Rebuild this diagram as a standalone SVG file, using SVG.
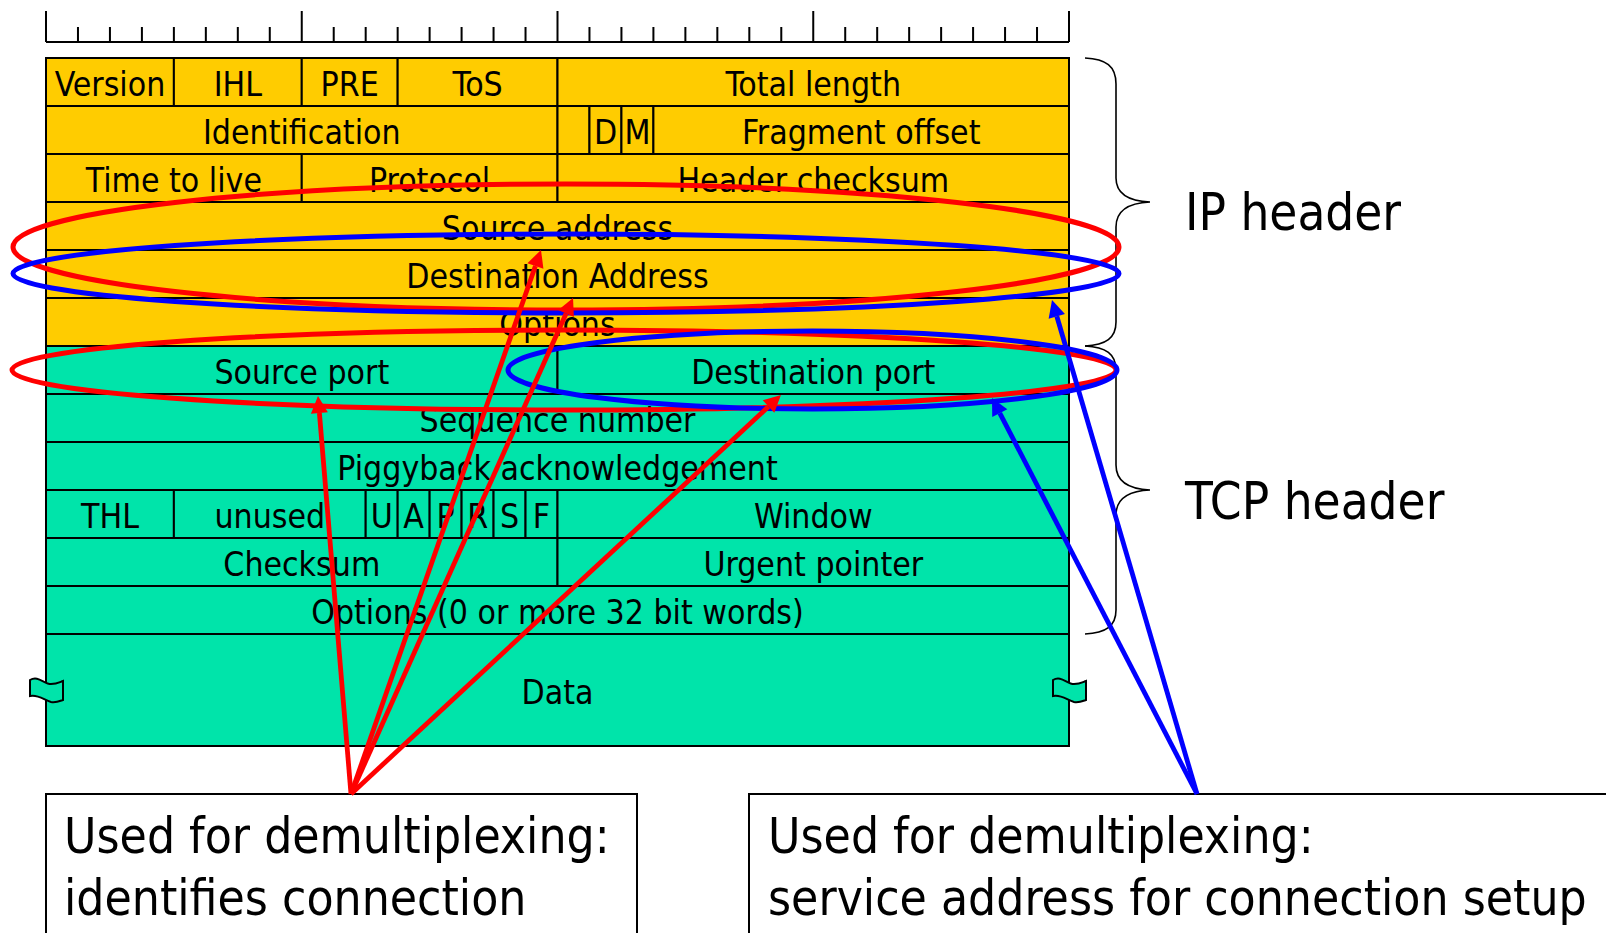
<svg xmlns="http://www.w3.org/2000/svg" width="1606" height="933" viewBox="0 0 1606 933">
  <style>
    .ip { fill: #FFCC00; stroke: #000; stroke-width: 2; }
    .tcp { fill: #00E4AA; stroke: #000; stroke-width: 2; }
    .f { font-family: "DejaVu Sans Condensed", "DejaVu Sans", sans-serif; font-stretch: condensed; font-size: 33.5px; text-anchor: middle; fill: #000; }
    .big { font-family: "DejaVu Sans Condensed", "DejaVu Sans", sans-serif; font-stretch: condensed; font-size: 50.7px; fill: #000; }
    .note { font-family: "DejaVu Sans Condensed", "DejaVu Sans", sans-serif; font-stretch: condensed; font-size: 49.3px; fill: #000; }
    .box { fill: #fff; stroke: #000; stroke-width: 2; }
    .rule { stroke: #000; stroke-width: 2; fill: none; }
    .brace { stroke: #000; stroke-width: 1.6; fill: none; }
    .ring { fill: none; stroke-width: 5; }
    .red { stroke: #FF0000; }
    .blue { stroke: #0000FF; }
    .arrow { stroke-width: 4.8; fill: none; }
  </style>
  <defs>
    <marker id="headRed" viewBox="0 -8.5 17 17" refX="0" refY="0" markerWidth="17" markerHeight="17" markerUnits="userSpaceOnUse" orient="auto" overflow="visible">
      <path d="M0,-8.5 L17,0 L0,8.5 z" fill="#FF0000"/>
    </marker>
    <marker id="headBlue" viewBox="0 -8.5 17 17" refX="0" refY="0" markerWidth="17" markerHeight="17" markerUnits="userSpaceOnUse" orient="auto" overflow="visible">
      <path d="M0,-8.5 L17,0 L0,8.5 z" fill="#0000FF"/>
    </marker>
    <path id="tear" d="M30,680 C38,675 44,684 51,684 C57,684 60,682 63,681 L63,700 C60,701 56,703 51,702 C44,700 38,694 30,696 Z"/>
  </defs>

  <!-- bit ruler: 32 bits, long ticks every 8 bits -->
  <g id="ruler" class="rule">
    <path d="M46,42 H1069"/>
    <path d="M46,42 V11 M301.75,42 V11 M557.5,42 V11 M813.25,42 V11 M1069,42 V11"/>
    <path d="M77.97,42 V27 M109.94,42 V27 M141.91,42 V27 M173.88,42 V27 M205.84,42 V27 M237.81,42 V27 M269.78,42 V27
             M333.72,42 V27 M365.69,42 V27 M397.66,42 V27 M429.63,42 V27 M461.59,42 V27 M493.56,42 V27 M525.53,42 V27
             M589.47,42 V27 M621.44,42 V27 M653.41,42 V27 M685.38,42 V27 M717.34,42 V27 M749.31,42 V27 M781.28,42 V27
             M845.22,42 V27 M877.19,42 V27 M909.16,42 V27 M941.13,42 V27 M973.09,42 V27 M1005.06,42 V27 M1037.03,42 V27"/>
  </g>

  <!-- IP header fields -->
  <g id="ip-version"><rect class="ip" x="46" y="58" width="127.88" height="48"/><text class="f" x="110" y="96">Version</text></g>
  <g id="ip-ihl"><rect class="ip" x="173.88" y="58" width="127.87" height="48"/><text class="f" x="237.8" y="96">IHL</text></g>
  <g id="ip-pre"><rect class="ip" x="301.75" y="58" width="95.91" height="48"/><text class="f" x="349.7" y="96">PRE</text></g>
  <g id="ip-tos"><rect class="ip" x="397.66" y="58" width="159.84" height="48"/><text class="f" x="477.6" y="96">ToS</text></g>
  <g id="ip-total-length"><rect class="ip" x="557.5" y="58" width="511.5" height="48"/><text class="f" x="813.3" y="96">Total length</text></g>

  <g id="ip-identification"><rect class="ip" x="46" y="106" width="511.5" height="48"/><text class="f" x="301.8" y="144">Identification</text></g>
  <g id="ip-flag-reserved"><rect class="ip" x="557.5" y="106" width="31.97" height="48"/></g>
  <g id="ip-flag-d"><rect class="ip" x="589.47" y="106" width="31.97" height="48"/><text class="f" x="605.5" y="144">D</text></g>
  <g id="ip-flag-m"><rect class="ip" x="621.44" y="106" width="31.97" height="48"/><text class="f" x="637.4" y="144">M</text></g>
  <g id="ip-fragment-offset"><rect class="ip" x="653.41" y="106" width="415.59" height="48"/><text class="f" x="861.2" y="144">Fragment offset</text></g>

  <g id="ip-ttl"><rect class="ip" x="46" y="154" width="255.75" height="48"/><text class="f" x="173.9" y="192">Time to live</text></g>
  <g id="ip-protocol"><rect class="ip" x="301.75" y="154" width="255.75" height="48"/><text class="f" x="429.6" y="192">Protocol</text></g>
  <g id="ip-header-checksum"><rect class="ip" x="557.5" y="154" width="511.5" height="48"/><text class="f" x="813.3" y="192">Header checksum</text></g>

  <g id="ip-source-address"><rect class="ip" x="46" y="202" width="1023" height="48"/><text class="f" x="557.5" y="240">Source address</text></g>
  <g id="ip-destination-address"><rect class="ip" x="46" y="250" width="1023" height="48"/><text class="f" x="557.5" y="288">Destination Address</text></g>
  <g id="ip-options"><rect class="ip" x="46" y="298" width="1023" height="48"/><text class="f" x="557.5" y="336">Options</text></g>

  <!-- TCP header fields -->
  <g id="tcp-source-port"><rect class="tcp" x="46" y="346" width="511.5" height="48"/><text class="f" x="301.8" y="384">Source port</text></g>
  <g id="tcp-destination-port"><rect class="tcp" x="557.5" y="346" width="511.5" height="48"/><text class="f" x="813.3" y="384">Destination port</text></g>
  <g id="tcp-sequence-number"><rect class="tcp" x="46" y="394" width="1023" height="48"/><text class="f" x="557.5" y="432">Sequence number</text></g>
  <g id="tcp-ack"><rect class="tcp" x="46" y="442" width="1023" height="48"/><text class="f" x="557.5" y="480">Piggyback acknowledgement</text></g>

  <g id="tcp-thl"><rect class="tcp" x="46" y="490" width="127.88" height="48"/><text class="f" x="110" y="528">THL</text></g>
  <g id="tcp-unused"><rect class="tcp" x="173.88" y="490" width="191.81" height="48"/><text class="f" x="269.8" y="528">unused</text></g>
  <g id="tcp-flag-u"><rect class="tcp" x="365.69" y="490" width="31.97" height="48"/><text class="f" x="381.7" y="528">U</text></g>
  <g id="tcp-flag-a"><rect class="tcp" x="397.66" y="490" width="31.97" height="48"/><text class="f" x="413.6" y="528">A</text></g>
  <g id="tcp-flag-p"><rect class="tcp" x="429.63" y="490" width="31.96" height="48"/><text class="f" x="445.6" y="528">P</text></g>
  <g id="tcp-flag-r"><rect class="tcp" x="461.59" y="490" width="31.97" height="48"/><text class="f" x="477.6" y="528">R</text></g>
  <g id="tcp-flag-s"><rect class="tcp" x="493.56" y="490" width="31.97" height="48"/><text class="f" x="509.5" y="528">S</text></g>
  <g id="tcp-flag-f"><rect class="tcp" x="525.53" y="490" width="31.97" height="48"/><text class="f" x="541.5" y="528">F</text></g>
  <g id="tcp-window"><rect class="tcp" x="557.5" y="490" width="511.5" height="48"/><text class="f" x="813.3" y="528">Window</text></g>

  <g id="tcp-checksum"><rect class="tcp" x="46" y="538" width="511.5" height="48"/><text class="f" x="301.8" y="576">Checksum</text></g>
  <g id="tcp-urgent-pointer"><rect class="tcp" x="557.5" y="538" width="511.5" height="48"/><text class="f" x="813.3" y="576">Urgent pointer</text></g>
  <g id="tcp-options"><rect class="tcp" x="46" y="586" width="1023" height="48"/><text class="f" x="557.5" y="624">Options (0 or more 32 bit words)</text></g>

  <!-- payload with tear marks on both sides -->
  <g id="data">
    <rect class="tcp" x="46" y="634" width="1023" height="112"/>
    <use href="#tear" class="tcp" stroke-width="1.6"/>
    <use href="#tear" class="tcp" stroke-width="1.6" transform="translate(1023,0)"/>
    <text class="f" x="557.5" y="704">Data</text>
  </g>

  <!-- header braces and labels -->
  <g id="ip-header-label">
    <path class="brace" d="M1085,58 C1106,59 1116,66 1116,84 L1116,178 C1116,193 1127,201 1150,202 C1127,203 1116,211 1116,227 L1116,322 C1116,338 1106,345 1085,346"/>
    <text class="big" x="1185" y="230">IP header</text>
  </g>
  <g id="tcp-header-label">
    <path class="brace" d="M1085,346 C1106,347 1116,354 1116,370 L1116,465 C1116,481 1127,489 1150,490 C1127,491 1116,499 1116,515 L1116,610 C1116,626 1106,633 1085,634"/>
    <text class="big" x="1185" y="519">TCP header</text>
  </g>

  <!-- explanation boxes -->
  <g id="note-connection">
    <rect class="box" x="46" y="794" width="591" height="160"/>
    <text class="note" x="64" y="853">Used for demultiplexing:</text>
    <text class="note" x="64" y="915">identifies connection</text>
  </g>
  <g id="note-service">
    <rect class="box" x="749" y="794" width="900" height="160"/>
    <text class="note" x="768" y="853">Used for demultiplexing:</text>
    <text class="note" x="768" y="915">service address for connection setup</text>
  </g>

  <!-- highlight rings and pointers -->
  <g id="connectors">
    <ellipse class="ring red" cx="566" cy="247" rx="553" ry="63"/>
    <ellipse class="ring blue" cx="566" cy="273.5" rx="553" ry="39.5"/>
    <ellipse class="ring red" cx="564" cy="370" rx="552" ry="40"/>
    <ellipse class="ring blue" cx="812.5" cy="370" rx="304.5" ry="39"/>

    <path class="arrow red" d="M351,794 L319.4,413" marker-end="url(#headRed)"/>
    <path class="arrow red" d="M351,794 L535.4,266" marker-end="url(#headRed)"/>
    <path class="arrow red" d="M351,794 L566.1,313.5" marker-end="url(#headRed)"/>
    <path class="arrow red" d="M351,794 L768.5,406.6" marker-end="url(#headRed)"/>

    <path class="arrow blue" d="M1197,794 L1056.8,316.3" marker-end="url(#headBlue)"/>
    <path class="arrow blue" d="M1197,794 L999.8,413.1" marker-end="url(#headBlue)"/>
  </g>
</svg>
